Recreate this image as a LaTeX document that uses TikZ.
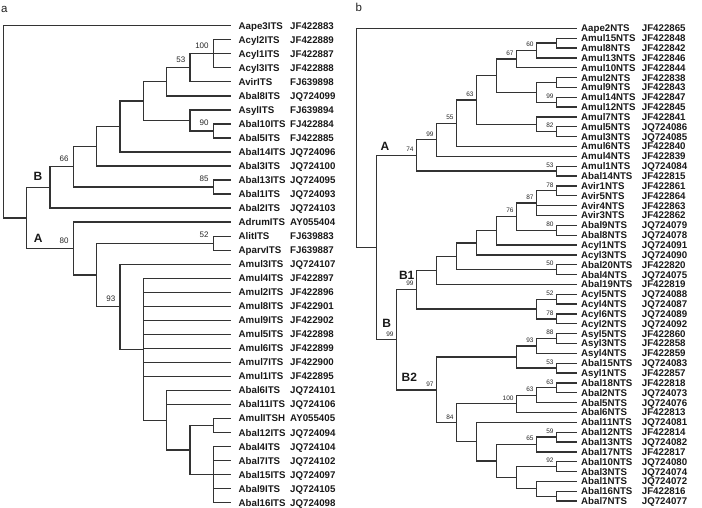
\documentclass[tikz,border=0pt]{standalone}
\usepackage{fontspec}
\setmainfont{Liberation Sans}
\usetikzlibrary{calc}
\newcommand\tnode[4]{\path let \p1=($(#3)!.5!(#4)$) in (#2pt,\y1) coordinate (#1);}
\begin{document}
\begin{tikzpicture}[x=1pt,y=-1pt,
 branch/.style={draw=black!80, line width=1.3pt, line join=miter},
 leaf/.style={anchor=west, inner sep=0pt, text height=6.9pt, text depth=0pt,
   font=\fontsize{9.7}{10}\selectfont\bfseries, text=black!90},
 bsl/.style={anchor=south east, inner sep=0pt, xshift=-4.5pt, yshift=5pt,
   font=\fontsize{8}{8}\selectfont, text=black!85},
 bsr/.style={anchor=south east, inner sep=0pt, xshift=-3pt, yshift=3.5pt,
   font=\fontsize{6.5}{7}\selectfont, text=black!85},
 clade/.style={inner sep=0pt, text height=8.6pt, text depth=0pt,
   font=\fontsize{12}{12}\selectfont\bfseries, text=black!90},
 panel/.style={anchor=base west, inner sep=0pt, font=\fontsize{11.5}{12}\selectfont, text=black!88}]
\useasboundingbox (0,0) rectangle (702,507);

\node[panel] (pa) at (1,12.5) {a};
\node[panel] (pb) at (355.5,11.7) {b};

% ---------------- left tree (ITS) ----------------
\foreach \n/\ac [count=\i] in {Aape3ITS/JF422883, Acyl2ITS/JF422889, Acyl1ITS/JF422887,
 Acyl3ITS/JF422888, AvirITS/FJ639898, Abal8ITS/JQ724099, AsylITS/FJ639894,
 Abal10ITS/FJ422884, Abal5ITS/FJ422885, Abal14ITS/JQ724096, Abal3ITS/JQ724100,
 Abal13ITS/JQ724095, Abal1ITS/JQ724093, Abal2ITS/JQ724103, AdrumITS/AY055404,
 AlitITS/FJ639883, AparvITS/FJ639887, Amul3ITS/JQ724107, Amul4ITS/JF422897,
 Amul2ITS/JF422896, Amul8ITS/JF422901, Amul9ITS/JF422902, Amul5ITS/JF422898,
 Amul6ITS/JF422899, Amul7ITS/JF422900, Amul1ITS/JF422895, Abal6ITS/JQ724101,
 Abal11ITS/JQ724106, AmulITSH/AY055405, Abal12ITS/JQ724094, Abal4ITS/JQ724104,
 Abal7ITS/JQ724102, Abal15ITS/JQ724097, Abal9ITS/JQ724105, Abal16ITS/JQ724098}{
  \pgfmathsetmacro\yy{25.7+(\i-1)*14.03}
  \coordinate (la\i) at (231,\yy);
  \node[leaf] (na\i) at (238.5,\yy) {\n};
  \node[leaf] (aa\i) at (290,\yy) {\ac};
}
\tnode{p100}{213.3}{la2}{la4}
\tnode{p53}{190}{p100}{la5}
\tnode{q7}{166.7}{p53}{la6}
\tnode{p90}{213.3}{la8}{la9}
\tnode{q8}{190}{la7}{p90}
\tnode{q6}{143.3}{q7}{q8}
\tnode{q5}{120}{q6}{la10}
\tnode{q4}{96.7}{q5}{la11}
\tnode{p85}{213.3}{la12}{la13}
\tnode{p66}{73.3}{q4}{p85}
\tnode{pB}{50}{p66}{la14}
\tnode{p52}{213.3}{la16}{la17}
\tnode{s7}{213.3}{la31}{la35}
\tnode{s8}{213.3}{la29}{la30}
\tnode{s9}{190}{s8}{s7}
\tnode{s10}{166.7}{la27}{s9}
\tnode{s11}{143.3}{la19}{s10}
\tnode{p93}{120}{la18}{s11}
\tnode{s12}{96.7}{p52}{p93}
\tnode{p80}{73.3}{la15}{s12}
\tnode{r1}{26.7}{pB}{p80}
\tnode{root}{3.3}{la1}{r1}

\foreach \p/\c in {root/la1, root/r1, r1/pB, r1/p80, pB/p66, pB/la14, p66/q4, p66/p85,
 q4/q5, q4/la11, q5/q6, q5/la10, q6/q7, q6/q8, q7/p53, q7/la6, p53/p100, p53/la5,
 p100/la2, p100/la3, p100/la4, q8/la7, q8/p90, p90/la8, p90/la9, p85/la12, p85/la13,
 p80/la15, p80/s12, s12/p52, s12/p93, p52/la16, p52/la17, p93/la18, p93/s11,
 s11/la19, s11/la20, s11/la21, s11/la22, s11/la23, s11/la24, s11/la25, s11/la26, s11/s10,
 s10/la27, s10/la28, s10/s9, s9/s8, s9/s7, s8/la29, s8/la30,
 s7/la31, s7/la32, s7/la33, s7/la34, s7/la35}
  \draw[branch] (\p) |- (\c);

\foreach \p/\t in {p100/100, p53/53, p90/90, p66/66, p85/85, p80/80, p52/52, p93/93}
  \node[bsl] (bl\p) at (\p) {\t};
\node[clade] (cladeLB) at ($(pB)+(-12,-10.7)$) {B};
\node[clade] (cladeLA) at ($(p80)+(-35,-10.2)$) {A};

% ---------------- right tree (NTS) ----------------
\foreach \n/\ac [count=\i] in {Aape2NTS/JF422865, Amul15NTS/JF422848, Amul8NTS/JF422842,
 Amul13NTS/JF422846, Amul10NTS/JF422844, Amul2NTS/JF422838, Amul9NTS/JF422843,
 Amul14NTS/JF422847, Amul12NTS/JF422845, Amul7NTS/JF422841, Amul5NTS/JQ724086,
 Amul3NTS/JQ724085, Amul6NTS/JF422840, Amul4NTS/JF422839, Amul1NTS/JQ724084,
 Abal14NTS/JF422815, Avir1NTS/JF422861, Avir5NTS/JF422864, Avir4NTS/JF422863,
 Avir3NTS/JF422862, Abal9NTS/JQ724079, Abal8NTS/JQ724078, Acyl1NTS/JQ724091,
 Acyl3NTS/JQ724090, Abal20NTS/JF422820, Abal4NTS/JQ724075, Abal19NTS/JF422819,
 Acyl5NTS/JQ724088, Acyl4NTS/JQ724087, Acyl6NTS/JQ724089, Acyl2NTS/JQ724092,
 Asyl5NTS/JF422860, Asyl3NTS/JF422858, Asyl4NTS/JF422859, Abal15NTS/JQ724083,
 Asyl1NTS/JF422857, Abal18NTS/JF422818, Abal2NTS/JQ724073, Abal5NTS/JQ724076,
 Abal6NTS/JF422813, Abal11NTS/JQ724081, Abal12NTS/JF422814, Abal13NTS/JQ724082,
 Abal17NTS/JF422817, Abal10NTS/JQ724080, Abal3NTS/JQ724074, Abal1NTS/JQ724072,
 Abal16NTS/JF422816, Abal7NTS/JQ724077}{
  \pgfmathsetmacro\yy{28.3+(\i-1)*9.85}
  \coordinate (lb\i) at (576.7,\yy);
  \node[leaf] (nb\i) at (581,\yy) {\n};
  \node[leaf] (ab\i) at (641.7,\yy) {\ac};
}
\tnode{a1}{556.7}{lb2}{lb3}
\tnode{a2}{536.7}{a1}{lb4}
\tnode{a3}{516.7}{a2}{lb5}
\tnode{c8}{556.7}{lb6}{lb7}
\tnode{b99}{556.7}{lb8}{lb9}
\tnode{c9}{536.7}{c8}{b99}
\tnode{a4}{496.7}{a3}{c9}
\tnode{a82}{556.7}{lb11}{lb12}
\tnode{c10}{536.7}{lb10}{a82}
\tnode{a63}{476.7}{a4}{c10}
\tnode{a55}{456.7}{a63}{lb13}
\tnode{a99}{436.7}{a55}{lb14}
\tnode{a53}{556.7}{lb15}{lb16}
\tnode{pA}{416.7}{a99}{a53}
\tnode{e78}{556.7}{lb17}{lb18}
\tnode{e87}{536.7}{e78}{lb20}
\tnode{e80}{556.7}{lb21}{lb22}
\tnode{e76}{516.7}{e87}{e80}
\tnode{e7}{496.7}{e76}{lb23}
\tnode{e6}{476.7}{e7}{lb24}
\tnode{e50}{556.7}{lb25}{lb26}
\tnode{e5}{456.7}{e6}{e50}
\tnode{e4}{436.7}{e5}{lb27}
\tnode{e52}{556.7}{lb28}{lb29}
\tnode{e78b}{556.7}{lb30}{lb31}
\tnode{e9}{536.7}{e52}{e78b}
\tnode{pB1}{416.7}{e4}{e9}
\tnode{f88}{556.7}{lb32}{lb33}
\tnode{f93}{536.7}{f88}{lb34}
\tnode{f53}{556.7}{lb35}{lb36}
\tnode{f8}{516.7}{f93}{f53}
\tnode{f63a}{556.7}{lb37}{lb38}
\tnode{f63}{536.7}{f63a}{lb39}
\tnode{f100}{516.7}{f63}{lb40}
\tnode{f59}{556.7}{lb42}{lb43}
\tnode{f65}{536.7}{f59}{lb44}
\tnode{f92}{556.7}{lb45}{lb46}
\tnode{g1}{556.7}{lb48}{lb49}
\tnode{g2}{536.7}{lb47}{g1}
\tnode{g3}{516.7}{f92}{g2}
\tnode{g4}{496.7}{f65}{g3}
\tnode{g5}{476.7}{lb41}{g4}
\tnode{f84}{456.7}{f100}{g5}
\tnode{pB2}{436.7}{f8}{f84}
\tnode{pBB}{396.7}{pB1}{pB2}
\tnode{rr1}{376.7}{pA}{pBB}
\tnode{rroot}{356.7}{lb1}{rr1}

\foreach \p/\c in {rroot/lb1, rroot/rr1, rr1/pA, rr1/pBB, pA/a99, pA/a53, a99/a55, a99/lb14,
 a55/a63, a55/lb13, a63/a4, a63/c10, a4/a3, a4/c9, a3/a2, a3/lb5, a2/a1, a2/lb4,
 a1/lb2, a1/lb3, c9/c8, c9/b99, c8/lb6, c8/lb7, b99/lb8, b99/lb9, c10/lb10, c10/a82,
 a82/lb11, a82/lb12, a53/lb15, a53/lb16,
 pBB/pB1, pBB/pB2, pB1/e4, pB1/e9, e4/e5, e4/lb27, e5/e6, e5/e50, e6/e7, e6/lb24,
 e7/e76, e7/lb23, e76/e87, e76/e80, e87/e78, e87/lb19, e87/lb20, e78/lb17, e78/lb18,
 e80/lb21, e80/lb22, e50/lb25, e50/lb26, e9/e52, e9/e78b, e52/lb28, e52/lb29,
 e78b/lb30, e78b/lb31,
 pB2/f8, pB2/f84, f8/f93, f8/f53, f93/f88, f93/lb34, f88/lb32, f88/lb33, f53/lb35, f53/lb36,
 f84/f100, f84/g5, f100/f63, f100/lb40, f63/f63a, f63/lb39, f63a/lb37, f63a/lb38,
 g5/lb41, g5/g4, g4/f65, g4/g3, f65/f59, f65/lb44, f59/lb42, f59/lb43, g3/f92, g3/g2,
 f92/lb45, f92/lb46, g2/lb47, g2/g1, g1/lb48, g1/lb49}
  \draw[branch] (\p) |- (\c);

\foreach \p/\t in {a2/60, a3/67, b99/99, a82/82, a63/63, a55/55, a99/99, pA/74, a53/53,
 e78/78, e87/87, e76/76, e80/80, e50/50, e52/52, e78b/78, pB1/99, pBB/99,
 f88/88, f93/93, f53/53, f63a/63, f63/63, f100/100, pB2/97, f84/84, f59/59, f65/65, f92/92}
  \node[bsr] (br\p) at (\p) {\t};
\node[clade] (cladeRA) at ($(pA)+(-31.7,-9.5)$) {A};
\node[clade] (cladeRB) at ($(pBB)+(-10,-16.5)$) {B};
\node[clade] (cladeRB1) at ($(pB1)+(-10,-14.2)$) {B1};
\node[clade] (cladeRB2) at ($(pB2)+(-27.4,-12.6)$) {B2};
\end{tikzpicture}
\end{document}
